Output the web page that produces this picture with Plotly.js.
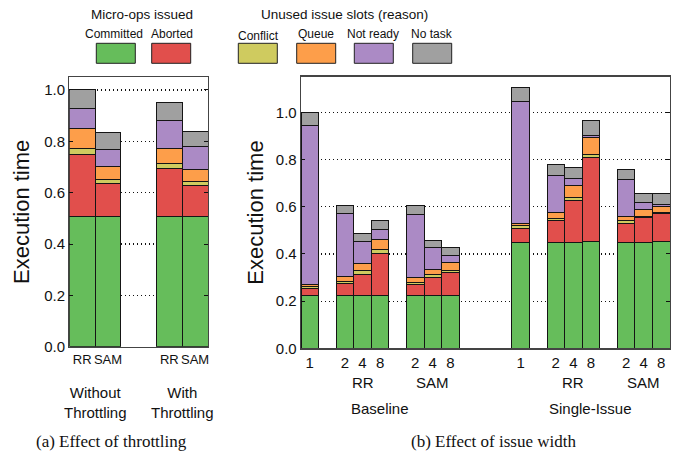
<!DOCTYPE html>
<html>
<head>
<meta charset="utf-8">
<script src="https://cdn.plot.ly/plotly-3.0.1.min.js"></script>
<style>
html,body{margin:0;padding:0;background:#fff;}
#chart{width:680px;height:453px;}
</style>
</head>
<body>
<div id="chart"></div>
<script>
// ---- Data ----
const categories = ['Committed', 'Aborted', 'Conflict', 'Queue', 'Not ready', 'No task'];
const colors = ['#66bd5b', '#e14f4c', '#cfcb5f', '#fd9e4a', '#ab8ac5', '#a0a0a0'];

// (a) Effect of throttling: RR, SAM (without throttling), RR, SAM (with throttling)
const leftSlots = [0, 1, 3.38, 4.38];
const leftTicks = ['RR', 'SAM', 'RR', 'SAM'];
const leftCommitted = [0.509, 0.509, 0.509, 0.509];
const leftAborted   = [0.240, 0.127, 0.186, 0.120];
const leftConflict  = [0.023, 0.015, 0.019, 0.015];
const leftQueue     = [0.079, 0.052, 0.060, 0.045];
const leftNotReady  = [0.076, 0.067, 0.109, 0.089];
const leftNoTask    = [0.073, 0.065, 0.068, 0.062];

// (b) Effect of issue width: Baseline [1, RR 2/4/8, SAM 2/4/8], Single-Issue [same]
const rightSlots = [0, 2, 3, 4, 6, 7, 8, 12, 14, 15, 16, 18, 19, 20];
const rightTicks = ['1', '2', '4', '8', '2', '4', '8', '1', '2', '4', '8', '2', '4', '8'];
const rightCommitted = [0.224, 0.224, 0.224, 0.224, 0.224, 0.224, 0.224, 0.450, 0.450, 0.450, 0.454, 0.450, 0.450, 0.452];
const rightAborted   = [0.028, 0.052, 0.091, 0.179, 0.048, 0.076, 0.098, 0.059, 0.094, 0.179, 0.355, 0.080, 0.106, 0.118];
const rightConflict  = [0.010, 0.007, 0.013, 0.014, 0.008, 0.011, 0.010, 0.010, 0.008, 0.012, 0.015, 0.010, 0.005, 0.005];
const rightQueue     = [0.010, 0.020, 0.033, 0.045, 0.020, 0.025, 0.031, 0.011, 0.025, 0.048, 0.071, 0.018, 0.026, 0.026];
const rightNotReady  = [0.671, 0.270, 0.094, 0.040, 0.269, 0.092, 0.032, 0.516, 0.158, 0.033, 0.007, 0.159, 0.031, 0.010];
const rightNoTask    = [0.057, 0.033, 0.032, 0.039, 0.035, 0.029, 0.033, 0.061, 0.045, 0.044, 0.065, 0.042, 0.040, 0.046];

const leftSeries = [leftCommitted, leftAborted, leftConflict, leftQueue, leftNotReady, leftNoTask];
const rightSeries = [rightCommitted, rightAborted, rightConflict, rightQueue, rightNotReady, rightNoTask];

// ---- Traces ----
const traces = [];
categories.forEach((name, i) => {
  traces.push({
    type: 'bar', name: name, x: leftSlots, y: leftSeries[i], width: 1,
    xaxis: 'x', yaxis: 'y', showlegend: false,
    marker: {color: colors[i], line: {color: '#151515', width: 1}}
  });
  traces.push({
    type: 'bar', name: name, x: rightSlots, y: rightSeries[i], width: 1,
    xaxis: 'x2', yaxis: 'y2', showlegend: false,
    marker: {color: colors[i], line: {color: '#151515', width: 1}}
  });
});

const W = 680, H = 453;
const px = v => v / W;
const py = v => 1 - v / H;

const sans = 'Liberation Sans, Arial, sans-serif';
const tickFont = {family: sans, size: 15, color: '#111'};
const legFont = {family: sans, size: 12, color: '#111'};
const legHeadFont = {family: sans, size: 13.5, color: '#111'};

const yCommon = {
  dtick: 0.2, tickformat: '.1f', ticks: 'inside', ticklen: 4, tickcolor: '#111',
  mirror: 'ticks', showline: true, linecolor: '#444', linewidth: 1.3,
  showgrid: true, gridcolor: '#111', griddash: '1px,3px', gridwidth: 1.2,
  zeroline: false, tickfont: tickFont, fixedrange: true
};
const xCommon = {
  showline: true, mirror: true, linecolor: '#444', linewidth: 1.3,
  showgrid: false, zeroline: false, ticks: '', tickangle: 0, tickfont: tickFont, fixedrange: true
};

const shapes = [];
const annotations = [];
function note(xref, x, y, text, font) {
  annotations.push({xref: xref, yref: 'paper', x: x, y: y, text: text, showarrow: false,
    xanchor: 'center', yanchor: 'middle', font: font});
}

// Legend: headers, labels and swatches
note('paper', px(142), py(15), 'Micro-ops issued', legHeadFont);
note('paper', px(344), py(15), 'Unused issue slots (reason)', legHeadFont);
const legItems = [
  {c: 0, cx: 114, lx: 96.3},
  {c: 1, cx: 172, lx: 151.7},
  {c: 2, cx: 258, lx: 238.3, ly: 36},
  {c: 3, cx: 316, lx: 296.7},
  {c: 4, cx: 373, lx: 354.3},
  {c: 5, cx: 432, lx: 412.7}
];
legItems.forEach(it => {
  note('paper', px(it.cx), py(it.ly || 34), categories[it.c], legFont);
  shapes.push({type: 'rect', xref: 'paper', yref: 'paper', x0: px(it.lx), x1: px(it.lx + 39), y0: py(63.3), y1: py(43.3),
    fillcolor: colors[it.c], line: {color: '#222', width: 1}});
});

// Group labels
const grpFont = {family: sans, size: 15, color: '#111'};
note('x', 0.5, py(402), 'Without<br>Throttling', grpFont);
note('x', 3.88, py(402), 'With<br>Throttling', grpFont);
[[3, 'RR'], [7, 'SAM'], [15, 'RR'], [19, 'SAM']].forEach(a => note('x2', a[0], py(382), a[1], grpFont));
[[4, 'Baseline'], [16, 'Single-Issue']].forEach(a => note('x2', a[0], py(408), a[1], grpFont));

// Captions
const capFont = {family: 'Liberation Serif, Times New Roman, serif', size: 17, color: '#111'};
note('paper', px(111), py(441), '(a) Effect of throttling', capFont);
note('paper', px(493), py(441), '(b) Effect of issue width', capFont);

const titleFont = {family: sans, size: 22, color: '#111'};
const layout = {
  width: W, height: H,
  margin: {l: 0, r: 0, t: 0, b: 0},
  paper_bgcolor: '#fff', plot_bgcolor: '#fff',
  barmode: 'stack', bargap: 0,
  showlegend: false,
  xaxis: Object.assign({}, xCommon, {
    domain: [px(69.3), px(208)], range: [-0.5, 4.88],
    tickmode: 'array', tickvals: leftSlots, ticktext: leftTicks, anchor: 'y',
    tickfont: Object.assign({}, tickFont, {size: 13})
  }),
  yaxis: Object.assign({}, yCommon, {
    domain: [py(346.7), py(77)], range: [0, 1.0506], anchor: 'x',
    title: {text: 'Execution time', font: titleFont, standoff: 8}
  }),
  xaxis2: Object.assign({}, xCommon, {
    domain: [px(301), px(670)], range: [-0.5, 20.5],
    tickmode: 'array', tickvals: rightSlots, ticktext: rightTicks, anchor: 'y2'
  }),
  yaxis2: Object.assign({}, yCommon, {
    domain: [py(348.3), py(76.7)], range: [0, 1.152], anchor: 'x2',
    title: {text: 'Execution time', font: titleFont, standoff: 6}
  }),
  shapes: shapes,
  annotations: annotations
};

Plotly.newPlot('chart', traces, layout, {displayModeBar: false, staticPlot: true});
</script>
</body>
</html>
